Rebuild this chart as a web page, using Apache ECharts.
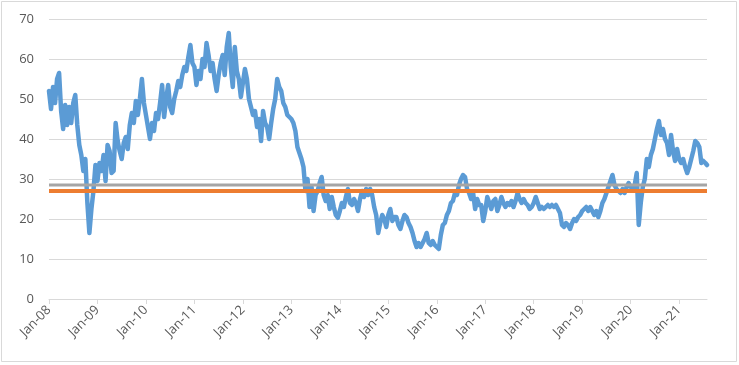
<!DOCTYPE html>
<html>
<head>
<meta charset="utf-8">
<script src="https://cdn.jsdelivr.net/npm/echarts@6/dist/echarts.min.js"></script>
<style>
html,body{margin:0;padding:0;background:#fff;}
#chart{width:739px;height:365px;}
</style>
</head>
<body>
<div id="chart"></div>
<script>
// Semi-monthly readings (1st and 16th of each month), per year
const v2008 = [52, 47.5, 53, 49, 55, 56.5, 47, 42.5, 48.5, 43.5, 48, 44, 49, 51, 43.5, 38.5, 36, 32, 35, 24, 16.5, 22.5, 27, 33.5];
const v2009 = [29.5, 34, 32, 36, 29.5, 38.5, 37, 31.5, 32, 44, 39.5, 37, 35, 39, 40.5, 37.5, 43.5, 46.5, 44, 49.5, 46, 50, 55, 49];
const v2010 = [46, 43, 40, 44, 42, 46.5, 45, 49, 53.5, 45.5, 50, 53.5, 48, 46.5, 50, 52, 54.5, 53, 56, 58, 57, 60.5, 63.5, 59];
const v2011 = [58, 53.5, 57, 55, 60, 58, 64, 61, 57, 59, 55, 52, 56, 59, 61, 56, 63, 66.5, 58, 53, 63, 57, 55, 50.5];
const v2012 = [54, 57.5, 55, 50, 48, 46, 47, 43, 45, 39.5, 47, 44, 43, 40, 44, 47.5, 50, 55, 53, 52, 49, 48, 46, 45.5];
const v2013 = [45, 44, 42, 38, 36.5, 35, 33, 27, 30, 23, 28, 22, 26, 27, 29, 30.5, 26, 24.5, 26, 22.5, 25.5, 23, 21, 20.3];
const v2014 = [22, 24, 23, 25.5, 27.5, 24, 23.5, 25, 24, 22, 25, 27, 25.5, 27.5, 26, 27.5, 26, 23, 21, 16.5, 19, 21, 20, 18];
const v2015 = [21, 22.5, 19.5, 20.5, 20.5, 18.5, 17.5, 19.5, 21, 20.5, 19, 18, 16.5, 14.5, 13, 14, 13, 14, 15, 16.5, 14, 13.5, 14.5, 13.5];
const v2016 = [13, 12.5, 16, 18.5, 19, 21, 22, 24, 24.5, 26.5, 26, 28.5, 30, 31, 30.5, 27.5, 26.5, 25, 26.5, 22.5, 25, 23.5, 23.5, 19.5];
const v2017 = [22, 25.5, 24, 22.5, 24.5, 25, 22, 23.5, 25.5, 24, 23, 24, 23.5, 24.5, 23, 24.5, 26.5, 25, 24, 25, 24, 23.5, 22.5, 23];
const v2018 = [24, 25.5, 24, 22.5, 23, 22.5, 23, 23.5, 23, 23.5, 23, 23.5, 22.5, 21.5, 18.5, 18, 19, 18.5, 17.5, 19, 20, 19.5, 20.5, 21];
const v2019 = [22, 22.5, 23, 22, 23, 22, 21, 22, 20.5, 22, 24, 25, 26.5, 28, 29.5, 31, 28.5, 27.5, 27, 26.5, 27.5, 26.5, 28, 29];
const v2020 = [28, 27.5, 28.5, 31.5, 18.5, 24, 28, 30, 35, 33, 36, 37.5, 40, 42.5, 44.5, 41, 42.5, 40, 39, 36, 41, 37, 34.5, 37.5];
const v2021 = [35, 34, 35, 33, 31.5, 33, 35, 37, 39.5, 39, 38, 34, 34.5, 34];
const lastPoint = { date: 2021.575, value: 33.5 }; // 28 Jul 2021

const grayLevel = 28.5;
const orangeLevel = 27.0;

const yearTicks = [2008, 2009, 2010, 2011, 2012, 2013, 2014, 2015, 2016, 2017, 2018, 2019, 2020, 2021];
const axisStart = 2008;
const axisEnd = 2021.575;

const byYear = [v2008, v2009, v2010, v2011, v2012, v2013, v2014, v2015, v2016, v2017, v2018, v2019, v2020, v2021];
const mainData = [];
byYear.forEach((arr, yi) => {
  arr.forEach((v, i) => mainData.push([2008 + yi + i / 24, v]));
});
mainData.push([lastPoint.date, lastPoint.value]);

const font = "'Open Sans', 'Liberation Sans', sans-serif";
const chart = echarts.init(document.getElementById('chart'), null, { renderer: 'canvas' });
chart.setOption({
  animation: false,
  backgroundColor: '#ffffff',
  graphic: [{
    type: 'rect', silent: true,
    shape: { x: 1.5, y: 1.5, width: 735, height: 360 },
    style: { fill: 'none', stroke: '#d9d9d9', lineWidth: 1 }
  }],
  grid: { left: 49, right: 32, top: 19, bottom: 66, containLabel: false },
  xAxis: {
    type: 'value', min: axisStart, max: axisEnd,
    axisLine: { show: true, lineStyle: { color: '#d9d9d9', width: 1 } },
    axisTick: { show: true, length: 5, customValues: yearTicks, lineStyle: { color: '#d9d9d9' } },
    splitLine: { show: false },
    axisLabel: {
      customValues: yearTicks, rotate: 45, margin: 9,
      color: '#595959', fontFamily: font, fontSize: 13,
      formatter: v => 'Jan-' + String(Math.round(v)).slice(2)
    }
  },
  yAxis: {
    type: 'value', min: 0, max: 70, interval: 10,
    axisLine: { show: false }, axisTick: { show: false },
    splitLine: { lineStyle: { color: '#d9d9d9', width: 1 } },
    axisLabel: { color: '#595959', fontFamily: font, fontSize: 13, margin: 15 }
  },
  series: [
    {
      type: 'line', data: mainData, showSymbol: false, symbol: 'none',
      lineStyle: { color: '#5b9bd5', width: 4.5, join: 'round', cap: 'round' }, z: 2
    },
    {
      type: 'line', data: [[axisStart, grayLevel], [axisEnd, grayLevel]], symbol: 'none',
      lineStyle: { color: '#a5a5a5', width: 3 }, z: 3
    },
    {
      type: 'line', data: [[axisStart, orangeLevel], [axisEnd, orangeLevel]], symbol: 'none',
      lineStyle: { color: '#ed7d31', width: 4 }, z: 4
    }
  ]
});
</script>
</body>
</html>
